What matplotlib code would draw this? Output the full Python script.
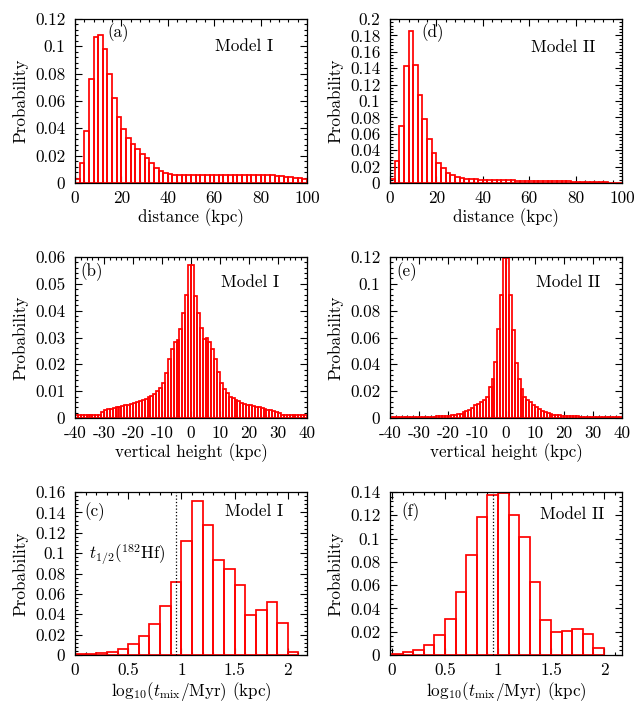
import numpy as np
import matplotlib
matplotlib.use("Agg")
import matplotlib.pyplot as plt
from matplotlib.ticker import MultipleLocator, FuncFormatter

plt.rcParams['font.family'] = ['cmr10', 'DejaVu Serif']
plt.rcParams['mathtext.fontset'] = 'cm'
plt.rcParams['axes.unicode_minus'] = False
plt.rcParams['axes.formatter.use_mathtext'] = True

# ---------------- data ----------------
# (a) distance, Model I, 2 kpc bins from 0 to 100
dist_edges = np.arange(0, 101, 2)
dist_m1 = [0.003, 0.015, 0.038, 0.076, 0.107, 0.1085, 0.0978, 0.080, 0.0623, 0.0486,
           0.0393, 0.0332, 0.0286, 0.0252, 0.0215, 0.0183, 0.0144, 0.011, 0.0088, 0.0073,
           0.0064, 0.0058, 0.0056, 0.0055, 0.0055, 0.0056, 0.0056, 0.0057, 0.0057, 0.0057,
           0.0058, 0.0058, 0.0058, 0.0058, 0.0058, 0.0058, 0.0058, 0.0058, 0.0057, 0.0057,
           0.0057, 0.0056, 0.0055, 0.0053, 0.0050, 0.0046, 0.0042, 0.0038, 0.0034, 0.0030]
# (d) distance, Model II
dist_m2 = [0.0045, 0.027, 0.070, 0.143, 0.185, 0.144, 0.107, 0.078, 0.054, 0.037,
           0.025, 0.018, 0.0126, 0.0093, 0.0069, 0.0057, 0.0049,
           0.0045, 0.0043, 0.0041, 0.0040, 0.0039, 0.0037, 0.0036, 0.0034, 0.0033,
           0.0031, 0.0030, 0.0029, 0.0028, 0.0027, 0.0026, 0.0025, 0.0024, 0.0023, 0.0022,
           0.0021, 0.0020, 0.0019, 0.0018, 0.0017, 0.0014, 0.0012, 0.0010, 0.0009, 0.0008,
           0.0007, 0.0006, 0.0005, 0.0004]

# (b) vertical height, Model I, 1 kpc bins from -40 to 40
z_edges = np.arange(-40, 41, 1)
z_m1 = [0.0013] * 9 + [
    0.0022, 0.0028, 0.0032, 0.0035, 0.0038, 0.0040, 0.0042, 0.0045, 0.0047, 0.0050,
    0.0053, 0.0056, 0.0060, 0.0064, 0.0068, 0.0072, 0.0077, 0.0082, 0.0090, 0.0100,
    0.0110, 0.0130, 0.0168, 0.0220, 0.0256, 0.0282, 0.0292, 0.0330, 0.0392, 0.0458,
    0.0572,
    0.0572, 0.0454, 0.0390, 0.0334, 0.0293, 0.0297, 0.0282, 0.0256, 0.0219, 0.0171,
    0.0130, 0.0108, 0.0095, 0.0080, 0.0073, 0.0067, 0.0062, 0.0057, 0.0053, 0.0050,
    0.0047, 0.0045, 0.0042, 0.0040, 0.0037, 0.0034, 0.0031, 0.0028, 0.0025, 0.0021,
    0.0018] + [0.0013] * 9
# (e) vertical height, Model II
z_m2 = [0.0005, 0.0005, 0.0005, 0.0005, 0.0006, 0.0006, 0.0006, 0.0006, 0.0007, 0.0007,
        0.0007, 0.0007, 0.0008, 0.0009, 0.0010, 0.0011, 0.0012, 0.0013, 0.0014, 0.0016,
        0.0018, 0.0020, 0.0024, 0.0027, 0.0033, 0.0042, 0.0050, 0.0062, 0.0074, 0.0094,
        0.0106, 0.0121, 0.0131, 0.0160, 0.0233, 0.0290, 0.0416, 0.0660, 0.0920, 0.1190,
        0.1190, 0.0915, 0.0658, 0.0413, 0.0292, 0.0218, 0.0156, 0.0131, 0.0116, 0.0099,
        0.0082, 0.0067, 0.0054, 0.0045, 0.0037, 0.0030, 0.0025, 0.0022, 0.0019, 0.0017,
        0.0015, 0.0014, 0.0013, 0.0012, 0.0012, 0.0011, 0.0010, 0.0010, 0.0009, 0.0009,
        0.0008, 0.0008, 0.0007, 0.0007, 0.0007, 0.0006, 0.0006, 0.0006, 0.0005, 0.0005]

# (c),(f) log10 mixing time, 0.1 bins from 0 to 2.1
t_edges = np.round(np.arange(0, 2.11, 0.1), 2)
t_m1 = [0.001, 0.0013, 0.002, 0.0033, 0.0059, 0.0105, 0.0184, 0.0308, 0.0482, 0.0721,
        0.112, 0.1515, 0.128, 0.0931, 0.0849, 0.0689, 0.0393, 0.0446, 0.0525, 0.0318,
        0.0026]
t_m2 = [0.0006, 0.0023, 0.0046, 0.0089, 0.0172, 0.031, 0.0542, 0.0863, 0.1185, 0.1374,
        0.1394, 0.1205, 0.1013, 0.0628, 0.0298, 0.0201, 0.0209, 0.0224, 0.0184, 0.0063]
t_half_hf = np.log10(8.9)

# ---------------- figure ----------------
fig = plt.figure(figsize=(6.38, 7.09), dpi=100)
W, H = 638.0, 709.0
FS = 12.3

def axes_at(x0, y0, x1, y1):
    return fig.add_axes([x0 / W, 1 - y1 / H, (x1 - x0) / W, (y1 - y0) / H])

fmt = FuncFormatter(lambda v, p: f"{round(v, 6):g}")

def style(ax, xmaj, xmin, ymaj, ymin):
    ax.xaxis.set_major_locator(MultipleLocator(xmaj))
    ax.xaxis.set_minor_locator(MultipleLocator(xmin))
    ax.yaxis.set_major_locator(MultipleLocator(ymaj))
    ax.yaxis.set_minor_locator(MultipleLocator(ymin))
    ax.xaxis.set_major_formatter(fmt)
    ax.yaxis.set_major_formatter(fmt)
    ax.tick_params(which='both', direction='in', top=True, right=True,
                   labelsize=FS, width=0.8)
    ax.tick_params(which='major', length=5)
    ax.tick_params(which='minor', length=2.5)
    ax.tick_params(axis='x', which='major', pad=5.5)
    ax.tick_params(axis='y', which='major', pad=7)
    for s in ax.spines.values():
        s.set_linewidth(0.9)
    ax.set_ylabel("Probability", fontsize=FS, labelpad=5)

def bars(ax, edges, vals):
    e = np.asarray(edges, dtype=float)
    w = e[1] - e[0]
    ax.bar(e[:len(vals)], vals, width=w, align='edge', fill=False,
           edgecolor='red', linewidth=1.25, zorder=2)

lx, rx = 75, 307
lx2, rx2 = 390, 622
rows = [(19, 183), (257, 418), (492, 655)]

axa = axes_at(lx, rows[0][0], rx, rows[0][1])
axd = axes_at(lx2, rows[0][0], rx2, rows[0][1])
axb = axes_at(lx, rows[1][0], rx, rows[1][1])
axe = axes_at(lx2, rows[1][0], rx2, rows[1][1])
axc = axes_at(lx, rows[2][0], rx, rows[2][1])
axf = axes_at(lx2, rows[2][0], rx2, rows[2][1])

XLP = 1.5
# (a)
bars(axa, dist_edges, dist_m1)
axa.set_xlim(0, 100); axa.set_ylim(0, 0.12)
style(axa, 20, 4, 0.02, 0.004)
axa.set_xlabel("distance (kpc)", fontsize=FS, labelpad=XLP)
# (d)
bars(axd, dist_edges, dist_m2)
axd.set_xlim(0, 100); axd.set_ylim(0, 0.2)
style(axd, 20, 4, 0.02, 0.004)
axd.set_xlabel("distance (kpc)", fontsize=FS, labelpad=XLP)
# (b)
bars(axb, z_edges, z_m1)
axb.set_xlim(-40, 40); axb.set_ylim(0, 0.06)
style(axb, 10, 2, 0.01, 0.002)
axb.set_xlabel("vertical height (kpc)", fontsize=FS, labelpad=XLP)
# (e)
bars(axe, z_edges, z_m2)
axe.set_xlim(-40, 40); axe.set_ylim(0, 0.12)
style(axe, 10, 2, 0.02, 0.004)
axe.set_xlabel("vertical height (kpc)", fontsize=FS, labelpad=XLP)
# (c)
bars(axc, t_edges, t_m1)
axc.axvline(t_half_hf, color='black', linestyle=':', linewidth=0.9, zorder=3)
axc.set_xlim(0, 2.18); axc.set_ylim(0, 0.16)
style(axc, 0.5, 0.1, 0.02, 0.004)
axc.set_xlabel(r"$\mathrm{log}_{10}(t_{\rm mix}/{\rm Myr})$ (kpc)", fontsize=FS,
               labelpad=XLP)
axc.text(0.49, 0.098, r"$t_{1/2}(^{182}{\rm Hf})$", fontsize=FS,
         ha='center', va='center')
# (f)
bars(axf, t_edges, t_m2)
axf.axvline(t_half_hf, color='black', linestyle=':', linewidth=0.9, zorder=3)
axf.set_xlim(-0.02, 2.17); axf.set_ylim(0, 0.14)
style(axf, 0.5, 0.1, 0.02, 0.004)
axf.set_xlabel(r"$\mathrm{log}_{10}(t_{\rm mix}/{\rm Myr})$ (kpc)", fontsize=FS,
               labelpad=XLP)

labels = [(axa, "(a)", 0.185, 0.915, "Model I", 0.73, 0.835),
          (axd, "(d)", 0.185, 0.915, "Model II", 0.746, 0.83),
          (axb, "(b)", 0.07, 0.91, "Model I", 0.755, 0.845),
          (axe, "(e)", 0.07, 0.91, "Model II", 0.767, 0.845),
          (axc, "(c)", 0.086, 0.88, "Model I", 0.77, 0.88),
          (axf, "(f)", 0.09, 0.88, "Model II", 0.785, 0.86)]
for ax, lab, x1, y1, mod, x2, y2 in labels:
    ax.text(x1, y1, lab, transform=ax.transAxes, fontsize=FS, ha='center', va='center')
    ax.text(x2, y2, mod, transform=ax.transAxes, fontsize=FS, ha='center', va='center')

fig.savefig("out.png", dpi=100)
